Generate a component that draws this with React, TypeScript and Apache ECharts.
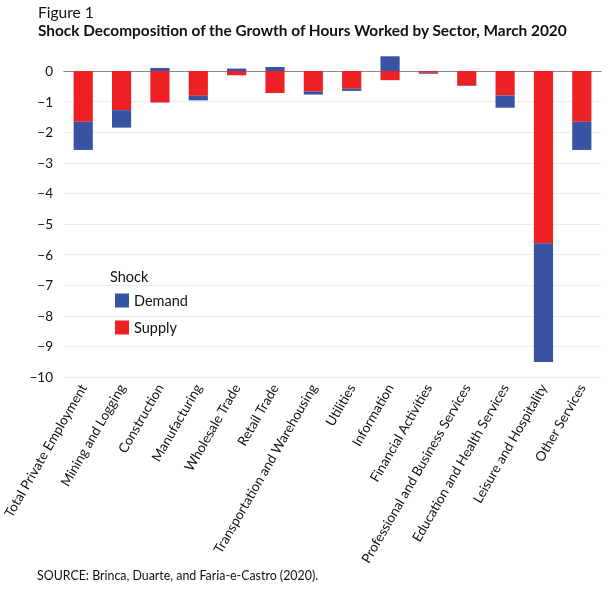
import React, { useEffect, useRef } from "react";
import * as echarts from "echarts";

const categories = [
  "Total Private Employment",
  "Mining and Logging",
  "Construction",
  "Manufacturing",
  "Wholesale Trade",
  "Retail Trade",
  "Transportation and Warehousing",
  "Utilities",
  "Information",
  "Financial Activities",
  "Professional and Business Services",
  "Education and Health Services",
  "Leisure and Hospitality",
  "Other Services",
];

const supply = [-1.66, -1.28, -1.03, -0.81, -0.14, -0.72, -0.67, -0.58, -0.3, -0.06, -0.48, -0.8, -5.63, -1.66];
const demand = [-0.92, -0.57, 0.1, -0.15, 0.08, 0.13, -0.1, -0.07, 0.48, -0.03, -0.01, -0.4, -3.88, -0.92];

const yTicks = [0, -1, -2, -3, -4, -5, -6, -7, -8, -9, -10];

const FONT = "Lato";

export default function App() {
  const ref = useRef<HTMLDivElement>(null);
  useEffect(() => {
    const chart = echarts.init(ref.current!, null, { renderer: "svg" });
    chart.setOption({
      animation: false,
      textStyle: { fontFamily: FONT },
      graphic: [
        { type: "text", left: 38, top: 4, style: { text: "Figure 1", fontSize: 15.5, fontFamily: FONT, fill: "#111" } },
        {
          type: "text",
          left: 38,
          top: 22,
          style: {
            text: "Shock Decomposition of the Growth of Hours Worked by Sector, March 2020",
            fontSize: 15.4,
            fontWeight: "bold",
            fontFamily: FONT,
            fill: "#111",
          },
        },
        { type: "text", left: 110, top: 269, style: { text: "Shock", fontSize: 14.5, fontFamily: FONT, fill: "#111" } },
        {
          type: "text",
          left: 37,
          top: 569,
          style: { text: "SOURCE: Brinca, Duarte, and Faria-e-Castro (2020).", fontSize: 12.4, fontFamily: FONT, fill: "#111" },
        },
      ],
      legend: {
        data: ["Demand", "Supply"],
        orient: "vertical",
        left: 110,
        top: 288,
        itemWidth: 14,
        itemHeight: 14,
        itemGap: 12,
        icon: "rect",
        textStyle: { fontSize: 14.5, fontFamily: FONT, color: "#111" },
        selectedMode: false,
      },
      grid: { left: 63, right: 9, top: 71, bottom: 212 },
      xAxis: [
        {
          type: "category",
          data: categories,
          position: "bottom",
          axisLine: { lineStyle: { color: "#8a8a8a", width: 1 } },
          axisTick: { alignWithLabel: true, length: 5, lineStyle: { color: "#8a8a8a" } },
          axisLabel: { rotate: 60, fontSize: 13.5, color: "#111", fontFamily: FONT, margin: 8, interval: 0 },
        },
        {
          type: "category",
          data: categories,
          position: "top",
          axisLine: { lineStyle: { color: "#8a8a8a", width: 1 } },
          axisTick: { show: false },
          axisLabel: { show: false },
        },
      ],
      yAxis: {
        type: "value",
        min: -10,
        max: 0,
        interval: 1,
        axisLine: { show: false },
        axisTick: { show: false },
        splitLine: { lineStyle: { color: "#ececec" } },
        axisLabel: {
          fontSize: 13.5,
          color: "#111",
          fontFamily: FONT,
          margin: 11,
          formatter: (v: number) => (yTicks.includes(v) ? (v < 0 ? "\u2212" + Math.abs(v) : String(v)) : ""),
        },
      },
      series: [
        {
          name: "Supply",
          type: "bar",
          stack: "s",
          data: supply,
          barWidth: "50%",
          clip: false,
          itemStyle: { color: "#ed2024" },
        },
        {
          name: "Demand",
          type: "bar",
          stack: "s",
          data: demand,
          barWidth: "50%",
          clip: false,
          itemStyle: { color: "#3953a4" },
        },
      ],
    });
    return () => chart.dispose();
  }, []);
  return <div ref={ref} style={{ position: "fixed", left: 0, top: 0, width: 610, height: 589 }} />;
}
